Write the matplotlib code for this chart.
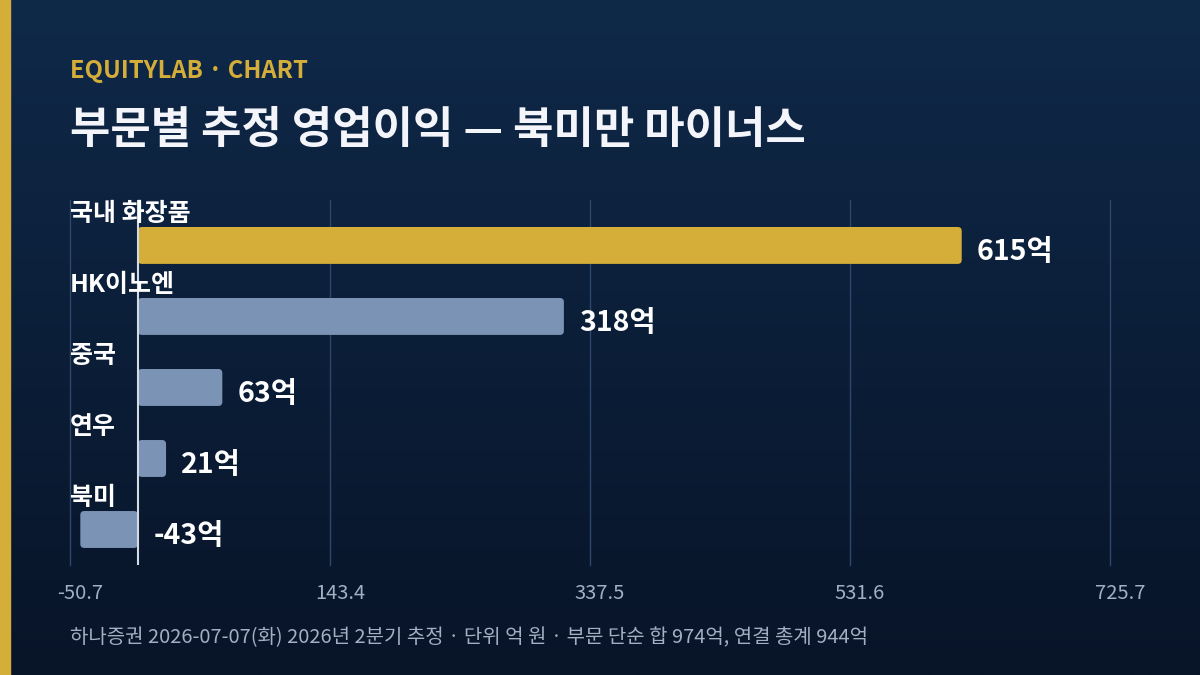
import numpy as np
import matplotlib.pyplot as plt
import matplotlib.transforms as mtransforms
from matplotlib.patches import FancyBboxPatch

plt.rcParams['font.family'] = ['Noto Sans CJK KR', 'DejaVu Sans']

# 데이터
segments = ["국내 화장품", "HK이노엔", "중국", "연우", "북미"]
profits = [615, 318, 63, 21, -43]
tick_values = [-50.7, 143.4, 337.5, 531.6, 725.7]
tick_labels = ["-50.7", "143.4", "337.5", "531.6", "725.7"]

highlight = "#d4ae38"
bar_blue = "#7b93b5"
muted = "#a3afc3"

fig = plt.figure(figsize=(12, 6.75), dpi=100)

# 배경 그라디언트
bg = fig.add_axes([0, 0, 1, 1], zorder=-10)
grad = np.linspace(0, 1, 256).reshape(-1, 1)
top = np.array([0x0f, 0x29, 0x49]) / 255
bottom = np.array([0x08, 0x14, 0x28]) / 255
img = top + (bottom - top) * grad[:, :, None]
bg.imshow(img, aspect='auto', extent=[0, 1, 0, 1])
bg.add_patch(plt.Rectangle((0, 0), 10 / 1200, 1, color=highlight))
bg.set_xlim(0, 1)
bg.set_ylim(0, 1)
bg.axis('off')

ax = fig.add_axes([70 / 1200, 110 / 675, 1040 / 1200, 365 / 675])
ax.set_facecolor('none')
ax.set_xlim(tick_values[0], tick_values[-1])
ax.set_ylim(4.5, -0.64)

bar_h = 0.52
colors = [highlight] + [bar_blue] * (len(segments) - 1)
bars = ax.barh(range(len(segments)), profits, height=bar_h, color=colors)

# 둥근 모서리
x_per_px = (tick_values[-1] - tick_values[0]) / 1040
y_per_px = 5.14 / 365
for b, c in zip(bars, colors):
    b.set_visible(False)
    x0, y0, w, h = b.get_x(), b.get_y(), b.get_width(), b.get_height()
    if w < 0:
        x0, w = x0 + w, -w
    ax.add_patch(FancyBboxPatch((x0, y0), w, h,
                                boxstyle=f"round,pad=0,rounding_size={4 * x_per_px}",
                                mutation_aspect=y_per_px / x_per_px,
                                facecolor=c, edgecolor='none', zorder=3))

for i, (name, v) in enumerate(zip(segments, profits)):
    ax.text(0.0, i - bar_h / 2 - 0.01, name, transform=ax.get_yaxis_transform(),
            ha='left', va='bottom', fontsize=18, fontweight='bold', color='white', zorder=5)
    ax.annotate(f"{v}억", (max(v, 0), i), xytext=(11, -4.5), textcoords='offset points',
                ha='left', va='center', fontsize=20.5, fontweight='bold', color='white', zorder=5)

ax.axvline(0, color='#d3dae4', lw=1.5, zorder=4)
ax.set_xticks(tick_values)
ax.set_xticklabels(tick_labels)
ax.set_yticks([])
ax.grid(axis='x', color='#2d4669', lw=1.0)
for gl in ax.get_xgridlines():
    gl.set_clip_on(False)
ax.set_axisbelow(True)
ax.tick_params(axis='x', length=0, colors=muted, labelsize=14.5, pad=13)
shift = mtransforms.ScaledTranslation(10 / 100, 0, fig.dpi_scale_trans)
for lbl in ax.get_xticklabels():
    lbl.set_transform(lbl.get_transform() + shift)
for s in ax.spines.values():
    s.set_visible(False)

fig.text(70 / 1200, 1 - 71 / 675, "EQUITYLAB · CHART", ha='left', va='center',
         fontsize=17.2, fontweight='bold', color=highlight)
fig.text(70 / 1200, 1 - 130 / 675, "부문별 추정 영업이익 — 북미만 마이너스", ha='left', va='center',
         fontsize=31.6, fontweight='bold', color='#f3f5fa')
fig.text(70 / 1200, 1 - 638 / 675,
         "하나증권 2026-07-07(화) 2026년 2분기 추정 · 단위 억 원 · 부문 단순 합 974억, 연결 총계 944억",
         ha='left', va='center', fontsize=14.4, color=muted)

fig.savefig("out.png", dpi=100)
